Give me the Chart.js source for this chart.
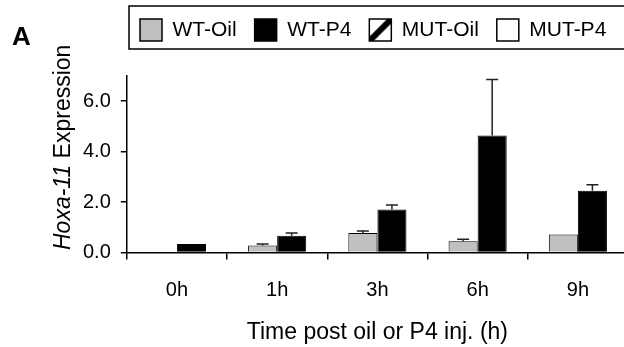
<!DOCTYPE html>
<html>
<head>
<meta charset="utf-8">
<script src="https://cdn.jsdelivr.net/npm/chart.js@4"></script>
<style>
  html, body { margin: 0; padding: 0; background: #fff; overflow: hidden; }
  #wrap { width: 628px; height: 347px; position: relative; }
</style>
</head>
<body>
<div id="wrap"><canvas id="chart"></canvas></div>
<script>
// data
const times = ['0h', '1h', '3h', '6h', '9h'];
const seriesNames = ['WT-Oil', 'WT-P4', 'MUT-Oil', 'MUT-P4'];
const wtOil = [0, 0.28, 0.77, 0.45, 0.71];
const wtP4 = [0.34, 0.66, 1.71, 4.64, 2.45];
const mutOil = [null, null, null, null, null];
const mutP4 = [null, null, null, null, null];
const wtOilErr = [0, 0.06, 0.08, 0.08, 0];
const wtP4Err = [0, 0.11, 0.17, 2.22, 0.24];
const yTicks = [0, 2, 4, 6];
const yMax = 7;
const xTitle = 'Time post oil or P4 inj. (h)';
const yTitleGene = 'Hoxa-11';
const yTitleRest = ' Expression';
const panelLetter = 'A';

const FONT = "'Liberation Sans', Arial, sans-serif";

// diagonal hatch used for the MUT-Oil swatch
const tile = document.createElement('canvas');
tile.width = 22; tile.height = 22;
const tc = tile.getContext('2d');
tc.fillStyle = '#fff';
tc.fillRect(0, 0, 22, 22);
tc.strokeStyle = '#000';
tc.lineWidth = 6;
tc.beginPath(); tc.moveTo(-2, 24); tc.lineTo(24, -2); tc.stroke();

const ctx = document.getElementById('chart').getContext('2d');
const hatch = ctx.createPattern(tile, 'repeat');

const errorBars = {
    id: 'errorBars',
    afterDatasetsDraw(chart) {
        const c = chart.ctx, y = chart.scales.y;
        [[0, wtOil, wtOilErr], [1, wtP4, wtP4Err]].forEach(([i, vals, errs]) => {
            chart.getDatasetMeta(i).data.forEach((bar, j) => {
                if (!errs[j]) return;
                const top = y.getPixelForValue(vals[j] + errs[j]);
                c.save();
                c.strokeStyle = '#222';
                c.lineWidth = 1.5;
                c.beginPath();
                c.moveTo(bar.x, bar.y); c.lineTo(bar.x, top);
                c.moveTo(bar.x - 6, top); c.lineTo(bar.x + 6, top);
                c.stroke();
                c.restore();
            });
        });
    }
};

const frame = {
    id: 'frame',
    afterLayout(chart) {
        // legend sits inside a framed box to the right of the panel letter
        chart.legend.left = 122;
        chart.legend.top = 1;
    },
    beforeDraw(chart) {
        const hb = chart.legend.legendHitBoxes[2];
        if (hb) hatch.setTransform(new DOMMatrix([1, 0, 0, 1, hb.left, hb.top]));
    },
    afterDraw(chart) {
        const c = chart.ctx;
        const hb = chart.legend.legendHitBoxes[0];
        c.save();
        c.strokeStyle = '#000';
        c.lineWidth = 1.5;
        c.strokeRect(129, hb.top - 13, 700, 43);

        c.fillStyle = '#000';
        c.font = 'bold 26px ' + FONT;
        c.textBaseline = 'alphabetic';
        c.fillText(panelLetter, 12, 45);

        c.translate(70, 250);
        c.rotate(-Math.PI / 2);
        c.font = 'italic 23px ' + FONT;
        c.fillText(yTitleGene, 0, 0);
        const w = c.measureText(yTitleGene).width;
        c.font = '23px ' + FONT;
        c.fillText(yTitleRest, w, 0);
        c.restore();
    }
};

const chart = new Chart(ctx, {
    type: 'bar',
    data: {
        labels: times,
        datasets: [
            { label: seriesNames[0], data: wtOil, backgroundColor: '#c0c0c0', borderColor: '#000', borderWidth: 1 },
            { label: seriesNames[1], data: wtP4, backgroundColor: '#000', borderColor: '#000', borderWidth: 1 },
            { label: seriesNames[2], data: mutOil, backgroundColor: hatch, borderColor: '#000', borderWidth: 1 },
            { label: seriesNames[3], data: mutP4, backgroundColor: '#fff', borderColor: '#000', borderWidth: 1 }
        ].map(d => Object.assign(d, { skipNull: true, categoryPercentage: 0.58, barPercentage: 1 }))
    },
    options: {
        responsive: true,
        maintainAspectRatio: false,
        animation: false,
        layout: { padding: { top: 26, left: 73, right: 0, bottom: 0 } },
        plugins: {
            tooltip: { enabled: false },
            legend: {
                position: 'top',
                align: 'start',
                labels: {
                    boxWidth: 22, boxHeight: 22, padding: 18, color: '#000',
                    font: { family: FONT, size: 21 },
                    generateLabels(ch) {
                        return Chart.defaults.plugins.legend.labels.generateLabels(ch)
                            .map(l => Object.assign(l, { lineWidth: 1.5, strokeStyle: '#000' }));
                    }
                }
            }
        },
        scales: {
            x: {
                grid: { display: true, drawOnChartArea: false, drawTicks: true, tickLength: 7, offset: true, color: '#000', lineWidth: 1.5 },
                border: { display: true, color: '#000', width: 1.5 },
                ticks: { color: '#000', font: { family: FONT, size: 20 }, padding: 19, maxRotation: 0 },
                title: { display: true, text: xTitle, color: '#000', font: { family: FONT, size: 23, lineHeight: 1 }, padding: { top: 0, bottom: 2.5 } }
            },
            y: {
                min: 0,
                max: yMax,
                afterBuildTicks: s => { s.ticks = yTicks.map(v => ({ value: v })); },
                grid: { display: true, drawOnChartArea: false, drawTicks: true, tickLength: 6, color: '#000', lineWidth: 1.5 },
                border: { display: true, color: '#000', width: 1.5 },
                ticks: { color: '#000', font: { family: FONT, size: 20 }, padding: 10, callback: v => v.toFixed(1) }
            }
        }
    },
    plugins: [errorBars, frame]
});
</script>
</body>
</html>
